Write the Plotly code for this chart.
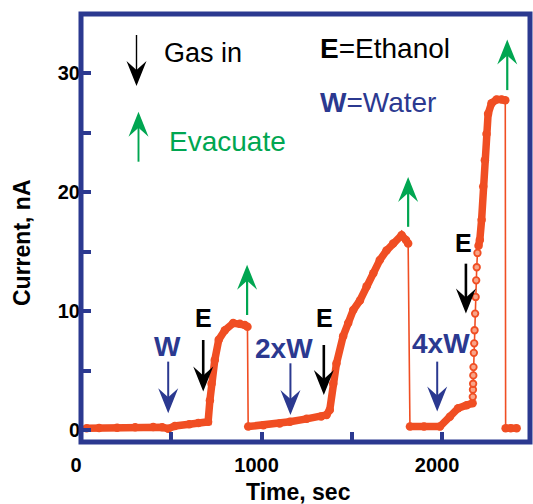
import plotly.graph_objects as go

ORANGE = "#F04E23"
BLUE = "#2B3990"
GREEN = "#00A651"
FONT = "Liberation Sans, Arial, sans-serif"

# ---------------- data: current (nA) vs time (s) ----------------
t_run1 = [31, 100, 200, 300, 400, 450, 483, 520, 600, 650, 704, 714, 723, 741, 763, 797, 843, 880, 907, 922]
i_run1 = [0.16, 0.18, 0.2, 0.24, 0.26, 0.24, 0.12, 0.35, 0.5, 0.6, 0.7, 2.5, 3.9, 5.9, 7.6, 8.4, 9.0, 8.95, 8.84, 8.7]
t_run2 = [926, 1010, 1100, 1157, 1250, 1330, 1360, 1378, 1397, 1415, 1452, 1480, 1508, 1545, 1582,
          1619, 1655, 1692, 1729, 1776, 1800, 1812]
i_run2 = [0.3, 0.4, 0.55, 0.7, 0.95, 1.15, 1.28, 1.7, 3.9, 5.6, 7.9, 9.0, 10.1, 10.9, 12.1,
          13.2, 14.3, 15.1, 15.7, 16.4, 16.0, 15.7]
t_run3_base = [1822, 1900, 1988, 2043, 2089, 2136, 2169]
i_run3_base = [0.3, 0.3, 0.3, 1.13, 1.84, 2.1, 2.26]
t_run3_rise = [2170, 2171, 2172, 2173, 2174, 2176, 2178, 2180, 2183, 2186, 2189, 2192, 2196]
i_run3_rise = [2.8, 3.4, 3.9, 4.6, 5.3, 6.5, 7.3, 8.4, 9.8, 11.2, 12.6, 13.7, 14.9]
t_run3_top = [2202, 2209, 2219, 2228, 2237, 2246, 2255, 2274, 2302, 2330, 2350]
i_run3_top = [15.5, 16.0, 17.7, 20.5, 22.7, 24.9, 26.6, 27.5, 27.8, 27.8, 27.75]
t_run4 = [2352, 2380, 2413]
i_run4 = [0.16, 0.16, 0.16]

# events (time, s)
water_t = [483, 1160, 1973]
water_labels = ["W", "2xW", "4xW"]
ethanol_t = [677, 1345, 2132]
evac_t = [920, 1812, 2361]

x_ticks = [0, 500, 1000, 1500, 2000]
x_ticktext = ["0", "", "1000", "", "2000"]
y_ticks = [0, 5, 10, 15, 20, 25, 30]
y_ticktext = ["0", "", "10", "", "20", "", "30"]

# ---------------- layout geometry ----------------
W, H = 533, 504
ML, MR, MT, MB = 81, 3, 14, 62
XR = [0, 2487]
YR = [-1, 35]
pw, ph = W - ML - MR, H - MT - MB
KX = (XR[1] - XR[0]) / pw   # data units per pixel
KY = (YR[1] - YR[0]) / ph


def px2x(px):
    return XR[0] + (px - ML) * KX


def py2y(py):
    return YR[1] - (py - MT) * KY


all_t = t_run1 + t_run2 + t_run3_base + t_run3_rise + t_run3_top + t_run4
all_i = i_run1 + i_run2 + i_run3_base + i_run3_rise + i_run3_top + i_run4

thick_t, thick_i = [], []
for tt, ii in [(t_run1, i_run1), (t_run2, i_run2), (t_run3_base, i_run3_base),
               (t_run3_top, i_run3_top), (t_run4, i_run4)]:
    thick_t += tt + [None]
    thick_i += ii + [None]

fig = go.Figure()
fig.add_trace(go.Scatter(x=all_t, y=all_i, mode="lines",
                         line=dict(color=ORANGE, width=1.6), hoverinfo="skip"))
fig.add_trace(go.Scatter(x=thick_t, y=thick_i, mode="lines+markers",
                         line=dict(color=ORANGE, width=7.5),
                         marker=dict(color=ORANGE, size=8.5), connectgaps=False))
fig.add_trace(go.Scatter(x=t_run3_rise, y=i_run3_rise, mode="markers",
                         marker=dict(color="#F8A488", size=6.5,
                                     line=dict(color=ORANGE, width=1.8))))

ann = []
shapes = [dict(type="rect", xref="paper", yref="paper", x0=0, x1=1, y0=0, y1=1,
               line=dict(color=BLUE, width=5), layer="above")]

HEAD_W, HEAD_L, NOTCH = 10, 25, 16   # pixels


def arrow(x, y_tip, y_tail, color, shaft_w):
    s = 1 if y_tail > y_tip else -1
    y_back = y_tip + s * HEAD_L * KY
    y_notch = y_tip + s * NOTCH * KY
    path = (f"M{x},{y_tip} L{x - HEAD_W * KX},{y_back} L{x},{y_notch} "
            f"L{x + HEAD_W * KX},{y_back} Z")
    shapes.append(dict(type="line", xref="x", yref="y", x0=x, x1=x,
                       y0=y_tail, y1=y_notch - s * 2 * KY,
                       line=dict(color=color, width=shaft_w)))
    shapes.append(dict(type="path", xref="x", yref="y", path=path,
                       fillcolor=color, line=dict(width=0)))


def label(px, py, text, size, color, xanchor="center", angle=0):
    ann.append(dict(x=(px - ML) / pw, y=1 - (py - MT) / ph, xref="paper", yref="paper",
                    text=text, showarrow=False, xanchor=xanchor, yanchor="middle",
                    textangle=angle,
                    font=dict(family=FONT, size=size, color=color)))


# legend-like arrows (top left)
arrow(px2x(136.5), py2y(86), py2y(35), "black", 1.4)
arrow(px2x(138.5), py2y(111.7), py2y(161.7), GREEN, 1.9)
label(161.7, 53.3, "Gas in", 27, "black", "left")
label(166.7, 141, "Evacuate", 28, GREEN, "left")
label(318, 48.8, "<b>E</b>=Ethanol", 28, "black", "left")
label(318, 103, "<b>W</b>=Water", 28, BLUE, "left")

# event arrows
water_tip = [1.42, 1.28, 1.56]
water_tail = [5.76, 5.62, 5.76]
eth_tip = [3.24, 2.96, 9.8]
eth_tail = [7.58, 7.16, 14.0]
evac_tail = [9.68, 17.1, 28.6]
evac_tip = [13.9, 21.3, 32.85]
for k in range(3):
    arrow(water_t[k], water_tip[k], water_tail[k], BLUE, 2.0)
    arrow(ethanol_t[k], eth_tip[k], eth_tail[k], "black", 2.6)
    arrow(evac_t[k], evac_tip[k], evac_tail[k], GREEN, 2.2)

water_lab_px = [(167.5, 346.7), (284.2, 348.3), (440.8, 343.3)]
eth_lab_px = [(203.3, 317.5), (324, 318), (463.3, 243.3)]
for k in range(3):
    label(*water_lab_px[k], "<b>%s</b>" % water_labels[k], 28, BLUE)
    label(*eth_lab_px[k], "<b>E</b>", 25, "black")

# axis titles
label(22, 243, "<b>Current, nA</b>", 23, "black", angle=-90)
label(298.5, 492, "<b>Time, sec</b>", 23, "black")

tickfont = dict(family=FONT, size=20, color="black", weight="bold")
axis_common = dict(showgrid=False, zeroline=False, showline=False,
                   ticks="inside", ticklen=10, tickwidth=3.5, tickcolor=BLUE,
                   tickfont=tickfont)

fig.update_layout(
    width=W, height=H,
    margin=dict(l=ML, r=MR, t=MT, b=MB, pad=0),
    paper_bgcolor="white", plot_bgcolor="white",
    showlegend=False,
    xaxis=dict(range=XR, tickvals=x_ticks, ticktext=x_ticktext,
               ticklabelstandoff=9, ticklabelshift=-5, **axis_common),
    yaxis=dict(range=YR, tickvals=y_ticks, ticktext=y_ticktext, **axis_common),
    shapes=shapes,
    annotations=ann,
)
fig.write_html("out.html")
